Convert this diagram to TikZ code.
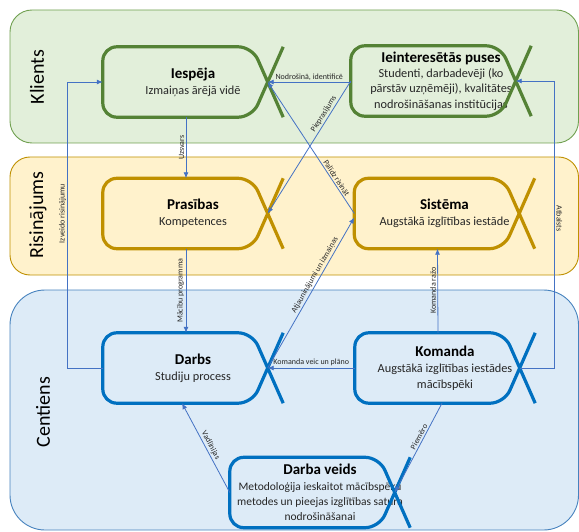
\documentclass[tikz,border=0pt]{standalone}
\usepackage{fontspec}
\setmainfont{Carlito}
\usetikzlibrary{arrows.meta,calc}
\definecolor{gfill}{RGB}{226,239,218}
\definecolor{gband}{RGB}{112,160,80}
\definecolor{gline}{RGB}{84,130,53}
\definecolor{yfill}{RGB}{255,242,204}
\definecolor{yband}{RGB}{191,144,0}
\definecolor{yline}{RGB}{191,144,0}
\definecolor{bfill}{RGB}{221,235,247}
\definecolor{bband}{RGB}{70,130,190}
\definecolor{bline}{RGB}{0,112,192}
\definecolor{conncol}{RGB}{68,114,196}
\definecolor{txt}{RGB}{38,38,38}
\newcommand{\nodetitle}[1]{{\fontsize{15}{15.5}\selectfont\bfseries\color{black}#1}}
\newcommand{\xoutline}[2]{%
  \draw[outline,#2] (#1.south east) -- ([xshift=-31pt]#1.north east) -- (#1.north west)
    -- (#1.south west) -- ([xshift=-31pt]#1.south east) -- (#1.north east);
  \coordinate (#1-x) at ([xshift=-15.5pt]#1.east);}
\tikzset{
  band/.style={rounded corners=#1, line width=0.9pt},
  bandlabel/.style={rotate=90, font=\fontsize{20}{24}\selectfont, text=black},
  box/.style={minimum width=180pt, minimum height=70pt, inner sep=0pt, align=center,
    text=txt, font=\fontsize{12.3}{15.8}\selectfont},
  smallbox/.style={box, font=\fontsize{11.5}{15.3}\selectfont},
  outline/.style={line width=3.2pt, rounded corners=14pt, line join=round},
  conn/.style={draw=conncol, line width=0.8pt, -{Latex[length=6pt,width=5pt]}},
  lbl/.style={font=\fontsize{8}{9}\selectfont, text=txt, inner sep=1.5pt},
}
\begin{document}
\begin{tikzpicture}[x=1pt,y=-1pt]
\useasboundingbox (0,0) rectangle (579,532);
% bands
\draw[band=22pt, draw=gband, fill=gfill] (10,10) rectangle (578.5,143);
\draw[band=20pt, draw=yband, fill=yfill] (10,157) rectangle (578.5,275);
\draw[band=35pt, draw=bband, fill=bfill] (10,290) rectangle (578.5,530);
\node[bandlabel] (klients) at (37,77) {Klients};
\node[bandlabel] (risin) at (38,215) {Risinājums};
\node[bandlabel] (centiens) at (43,412) {Centiens};
% nodes
\node[box] (iespeja) at (193,82) {\nodetitle{Iespēja}\\Izmaiņas ārējā vidē};
\node[box, font=\fontsize{12.3}{15.3}\selectfont] (ieint) at (441,81) {\nodetitle{Ieinteresētās puses}\\Studenti, darbadevēji (ko\\pārstāv uzņēmēji), kvalitātes\\nodrošināšanas institūcijas};
\node[box] (prasibas) at (193,213.5) {\nodetitle{Prasības}\\Kompetences};
\node[box] (sistema) at (444.5,213.5) {\nodetitle{Sistēma}\\Augstākā izglītības iestāde};
\node[box] (darbs) at (193,368) {\nodetitle{Darbs}\\Studiju process};
\node[box] (komanda) at (445,368) {\nodetitle{Komanda}\\Augstākā izglītības iestādes\\mācībspēki};
\node[smallbox] (dveids) at (320,492.5) {\nodetitle{Darba veids}\\Metodoloģija ieskaitot mācībspēku\\metodes un pieejas izglītības satura\\nodrošināšanai};
\xoutline{iespeja}{draw=gline}
\xoutline{ieint}{draw=gline}
\xoutline{prasibas}{draw=yline}
\xoutline{sistema}{draw=yline}
\xoutline{darbs}{draw=bline}
\xoutline{komanda}{draw=bline}
\xoutline{dveids}{draw=bline}
% connectors
\draw[conn] (iespeja-x -| ieint.west) -- node[lbl, above]{Nodrošinā, identificē} (iespeja-x);
\draw[conn] (ieint.west) -- node[lbl, pos=0.27, sloped, above]{Pieprasījums} (prasibas-x);
\draw[conn] (sistema.west) -- node[lbl, pos=0.25, sloped, above]{Palīdz risināt} (iespeja-x);
\draw[conn] (darbs-x) -- node[lbl, pos=0.6, sloped, above]{Atjauninājumi un izmaiņas} ([yshift=-4pt]sistema.west);
\draw[conn] ([xshift=-7pt]iespeja.south) -- node[lbl, rotate=90, above]{Uzsvars} ([xshift=-7pt]prasibas.north);
\draw[conn] ([xshift=-7pt]prasibas.south) -- node[lbl, rotate=90, above]{Mācību programma} ([xshift=-7pt]darbs.north);
\draw[conn] (darbs.west) -- ++(-35,0) |- node[lbl, pos=0.27, rotate=90, above]{Izveido risinājumu} (iespeja.west);
\draw[conn] (komanda.west) -- node[lbl, above]{Komanda veic un plāno} (darbs-x);
\draw[conn] ([xshift=-7pt]komanda.north) -- node[lbl, rotate=90, above]{Komanda ražo} ([xshift=-7pt]sistema.south);
\draw[conn] (komanda-x) -- ++(35,0) |- node[lbl, pos=0.26, rotate=-90, above]{Atbalsts} (ieint-x);
\draw[conn] (dveids.west) -- node[lbl, sloped, above]{Vadlīnijas} ([xshift=-11pt]darbs.south);
\draw[conn] ([xshift=-3pt]komanda.south) -- node[lbl, pos=0.4, sloped, above]{Piemēro} (dveids-x);
\end{tikzpicture}
\end{document}
